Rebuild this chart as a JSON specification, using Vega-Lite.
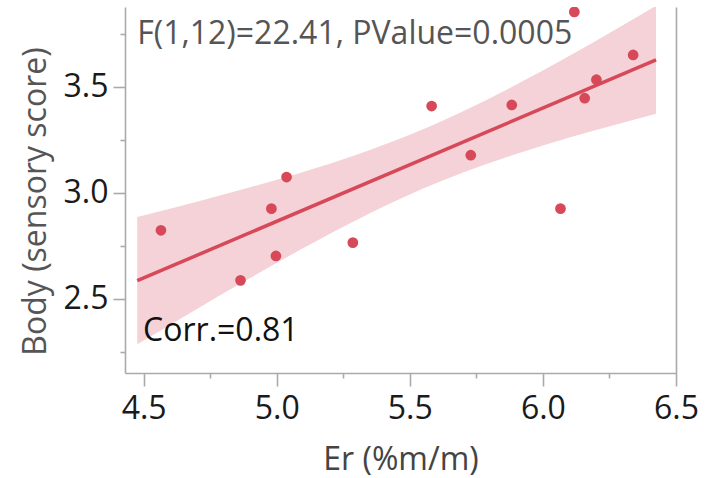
{
  "$schema": "https://vega.github.io/schema/vega-lite/v6.json",
  "width": 551,
  "height": 366,
  "autosize": {"type": "none"},
  "padding": {"left": 125, "top": 7, "right": 30, "bottom": 105},
  "background": "white",
  "config": {"view": {"stroke": null}, "font": "Open Sans"},
  "datasets": {
    "points": [
      {"er": 4.565, "body": 2.824},
      {"er": 4.864, "body": 2.588},
      {"er": 4.980, "body": 2.926},
      {"er": 4.997, "body": 2.703},
      {"er": 5.037, "body": 3.075},
      {"er": 5.286, "body": 2.766},
      {"er": 5.582, "body": 3.410},
      {"er": 5.729, "body": 3.178},
      {"er": 5.883, "body": 3.415},
      {"er": 6.066, "body": 2.926},
      {"er": 6.118, "body": 3.854},
      {"er": 6.157, "body": 3.447},
      {"er": 6.201, "body": 3.534},
      {"er": 6.339, "body": 3.651}
    ],
    "band": [
      {"er": 4.476, "lo": 2.286, "hi": 2.887},
      {"er": 4.7, "lo": 2.453, "hi": 2.959},
      {"er": 4.9, "lo": 2.599, "hi": 3.027},
      {"er": 5.1, "lo": 2.740, "hi": 3.099},
      {"er": 5.3, "lo": 2.873, "hi": 3.180},
      {"er": 5.5, "lo": 2.993, "hi": 3.274},
      {"er": 5.7, "lo": 3.096, "hi": 3.385},
      {"er": 5.9, "lo": 3.184, "hi": 3.511},
      {"er": 6.1, "lo": 3.261, "hi": 3.647},
      {"er": 6.3, "lo": 3.331, "hi": 3.791},
      {"er": 6.425, "lo": 3.373, "hi": 3.883}
    ],
    "notes": [
      {"label": "F(1,12)=22.41, PValue=0.0005", "er": 4.476, "body": 3.703, "kind": "f"},
      {"label": "Corr.=0.81", "er": 4.498, "body": 2.302, "kind": "c"}
    ]
  },
  "resolve": {"axis": {"y": "independent"}},
  "layer": [
    {
      "data": {"name": "band"},
      "mark": {"type": "area", "color": "#f4d2d7", "opacity": 1, "clip": true, "interpolate": "monotone"},
      "encoding": {
        "x": {
          "field": "er", "type": "quantitative",
          "scale": {"domain": [4.43, 6.5], "nice": false, "zero": false},
          "axis": {
            "values": [4.5, 4.75, 5, 5.25, 5.5, 5.75, 6, 6.25, 6.5],
            "labelExpr": "round(datum.value*4)%2==0 ? format(datum.value,'.1f') : ''",
            "tickSize": {"condition": {"test": "round(datum.value*4)%2==0", "value": 13}, "value": 5},
            "grid": false,
            "domainColor": "#aaaaaa", "domainWidth": 1.6,
            "tickColor": "#aaaaaa", "tickWidth": 1.6,
            "labelFontSize": 32, "labelColor": "#1a1a1a", "labelPadding": 7,
            "labelFlush": false, "labelOverlap": false,
            "title": "Er (%m/m)", "titleFontSize": 32, "titleFontWeight": "normal",
            "titleColor": "#444444", "titleBaseline": "alphabetic", "titleY": 96
          }
        },
        "y": {
          "field": "lo", "type": "quantitative",
          "scale": {"domain": [2.151, 3.877], "nice": false, "zero": false},
          "axis": {
            "values": [2.25, 2.5, 2.75, 3, 3.25, 3.5, 3.75],
            "labelExpr": "round(datum.value*4)%2==0 ? format(datum.value,'.1f') : ''",
            "tickSize": {"condition": {"test": "round(datum.value*4)%2==0", "value": 12}, "value": 5},
            "grid": false,
            "domainColor": "#aaaaaa", "domainWidth": 1.6,
            "tickColor": "#aaaaaa", "tickWidth": 1.6,
            "labelFontSize": 32, "labelColor": "#1a1a1a", "labelPadding": 5,
            "labelFlush": false, "labelOverlap": false,
            "title": "Body (sensory score)", "titleFontSize": 32, "titleFontWeight": "normal",
            "titleColor": "#555555", "titleAngle": -90, "titleBaseline": "alphabetic",
            "titleAlign": "center", "titleX": -80, "titleY": 194
          }
        },
        "y2": {"field": "hi"}
      }
    },
    {
      "data": {"name": "points"},
      "transform": [{"regression": "body", "on": "er", "extent": [4.476, 6.425]}],
      "mark": {"type": "line", "color": "#d74858", "strokeWidth": 3.5, "clip": true},
      "encoding": {
        "x": {"field": "er", "type": "quantitative", "scale": {"domain": [4.43, 6.5], "nice": false, "zero": false}},
        "y": {"field": "body", "type": "quantitative", "scale": {"domain": [2.151, 3.877], "nice": false, "zero": false}, "axis": null}
      }
    },
    {
      "data": {"name": "points"},
      "mark": {"type": "circle", "color": "#d74858", "size": 115, "opacity": 1, "clip": true},
      "encoding": {
        "x": {"field": "er", "type": "quantitative", "scale": {"domain": [4.43, 6.5], "nice": false, "zero": false}},
        "y": {"field": "body", "type": "quantitative", "scale": {"domain": [2.151, 3.877], "nice": false, "zero": false}, "axis": null}
      }
    },
    {
      "data": {"name": "notes"},
      "transform": [{"filter": "datum.kind == 'f'"}],
      "mark": {"type": "text", "align": "left", "baseline": "alphabetic", "fontSize": 32, "color": "#555555"},
      "encoding": {
        "x": {"field": "er", "type": "quantitative", "scale": {"domain": [4.43, 6.5], "nice": false, "zero": false}},
        "y": {"field": "body", "type": "quantitative", "scale": {"domain": [2.151, 3.877], "nice": false, "zero": false}, "axis": null},
        "text": {"field": "label"}
      }
    },
    {
      "data": {"name": "notes"},
      "transform": [{"filter": "datum.kind == 'c'"}],
      "mark": {"type": "text", "align": "left", "baseline": "alphabetic", "fontSize": 32, "color": "#111111"},
      "encoding": {
        "x": {"field": "er", "type": "quantitative", "scale": {"domain": [4.43, 6.5], "nice": false, "zero": false}},
        "y": {"field": "body", "type": "quantitative", "scale": {"domain": [2.151, 3.877], "nice": false, "zero": false}, "axis": null},
        "text": {"field": "label"}
      }
    },
    {
      "data": {"name": "points"},
      "mark": {"type": "circle", "opacity": 0},
      "encoding": {
        "x": {"field": "er", "type": "quantitative", "scale": {"domain": [4.43, 6.5], "nice": false, "zero": false}},
        "y": {
          "field": "body", "type": "quantitative",
          "scale": {"domain": [2.151, 3.877], "nice": false, "zero": false},
          "axis": {"orient": "right", "labels": false, "ticks": false, "grid": false, "title": null,
                   "domainColor": "#aaaaaa", "domainWidth": 1.6}
        }
      }
    }
  ]
}
